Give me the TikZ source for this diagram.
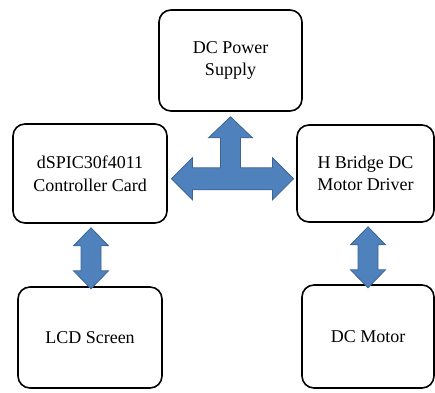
\documentclass[tikz,border=0pt]{standalone}
\usepackage{fontspec}
\setmainfont{Liberation Serif}
\usepackage{tikz}
\usetikzlibrary{positioning,calc}

\definecolor{arrowblue}{HTML}{4F81BD}
\definecolor{arrowedge}{HTML}{3A6593}

\tikzset{
    block/.style={draw, line width=1.6pt, rounded corners=12pt, align=center,
        font=\fontsize{18}{22.5}\selectfont},
    blockarrow/.style={fill=arrowblue, draw=arrowedge, line width=0.8pt, line join=miter}
}

% vertical double block arrow, #1 = upper tip
\newcommand{\vbiarrow}[1]{%
    \filldraw[blockarrow] (#1) -- ++(17.5,18) -- ++(-7.5,0) -- ++(0,25) -- ++(7.5,0)
        -- ++(-17.5,18) -- ++(-17.5,-18) -- ++(7.5,0) -- ++(0,-25) -- ++(-7.5,0) -- cycle;}

\begin{document}
\begin{tikzpicture}[x=1pt,y=-1pt]
        \useasboundingbox (0,0) rectangle (435,392);

        \node[block, minimum width=143pt, minimum height=101pt] (power) at (230.5, 60.5) {DC Power\\Supply};
        \node[block, minimum width=154pt, minimum height=99pt] (ctrl) at (90, 173.5) {dSPIC30f4011\\Controller Card};
        \node[block, minimum width=137pt, minimum height=97pt] (hbridge) at (365.5, 173.5) {H Bridge DC\\Motor Driver};
        \node[block, minimum width=144pt, minimum height=101pt] (lcd) at (90, 337.5) {LCD Screen};
        \node[block, minimum width=132pt, minimum height=103pt] (motor) at (368, 336.5) {DC Motor};

        % three-way arrow between controller, supply and driver
        \coordinate (ttip) at ($(power.south)+(0,5)$);
        \filldraw[blockarrow] (ttip) -- ++(22,21) -- ++(-12,0) -- ++(0,30) -- ++(32,0)
            -- ++(0,-10) -- ++(21,21) -- ++(-21,21) -- ++(0,-10) -- ++(-80,0)
            -- ++(0,10) -- ++(-21,-21) -- ++(21,-21) -- ++(0,10) -- ++(28,0)
            -- ++(0,-30) -- ++(-12,0) -- cycle;

        \vbiarrow{$(ctrl.south)+(1,4)$}
        \vbiarrow{$(hbridge.south)+(2.5,4)$}
    \end{tikzpicture}
\end{document}
